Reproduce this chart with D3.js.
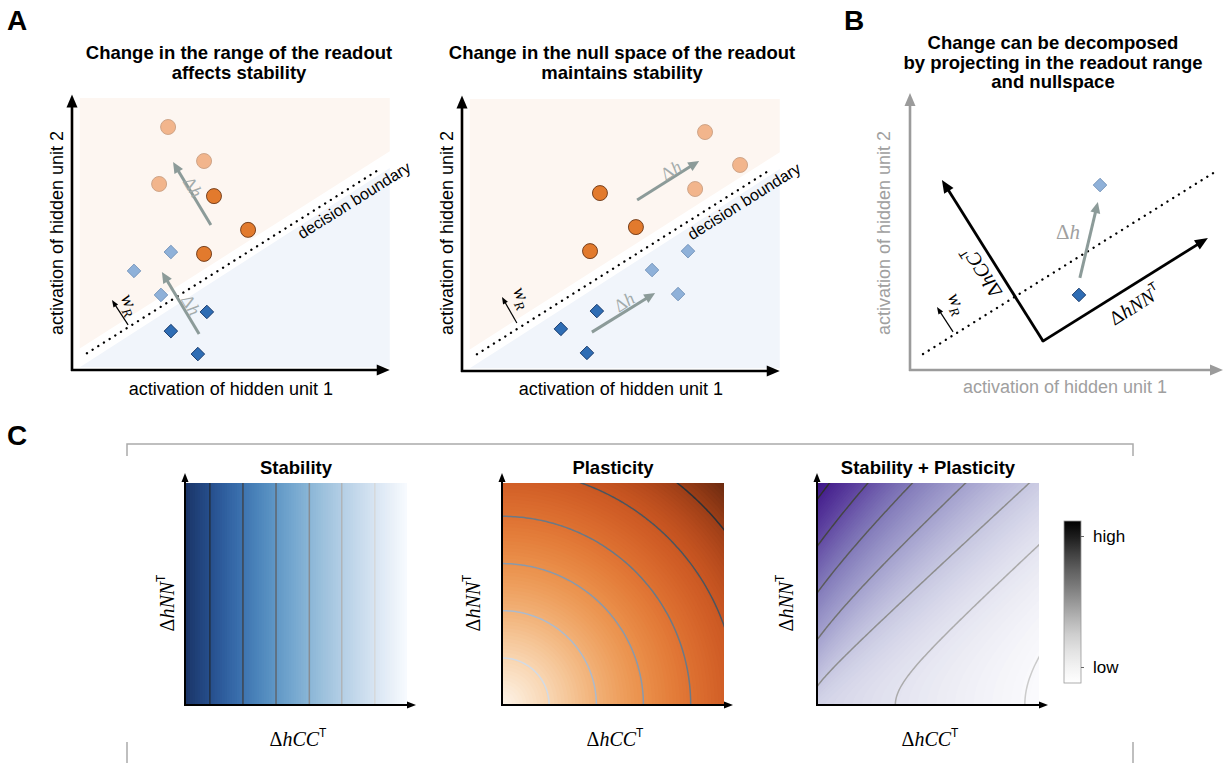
<!DOCTYPE html>
<html>
<head>
<meta charset="utf-8">
<script src="https://cdn.jsdelivr.net/npm/d3@7"></script>
<style>
  body { margin: 0; background: #fff; }
  text { font-family: "Liberation Sans", Arial, sans-serif; }
  .math { font-family: "Liberation Serif", "DejaVu Serif", serif; }
  .title { font-weight: bold; font-size: 18.5px; }
</style>
</head>
<body>
<svg id="fig"></svg>
<script>
const width = 1225;
const height = 763;
const svg = d3.select("svg#fig").attr("width", width).attr("height", height);

// ---- data (panel A/B in abstract unit space 0..10) ----
// left: change in readout range
const rangeOrangeAfter = [[3.10, 9.00], [4.26, 7.74], [2.81, 6.89]];
const rangeOrangeBefore = [[4.58, 6.44], [5.68, 5.19], [4.26, 4.30]];
const rangeBlueAfter = [[3.19, 4.37], [2.00, 3.67], [2.87, 2.78]];
const rangeBlueBefore = [[4.35, 2.15], [3.19, 1.44], [4.06, 0.59]];
const rangeShifts = [[[4.48, 5.37], [3.26, 7.70]], [[4.10, 1.33], [2.90, 3.63]]];
const rangeShiftLabels = [[3.90, 6.78], [3.84, 2.41]];
const rangeW = [[1.81, 1.67], [1.29, 2.59]];
const rangeWLabel = [1.90, 2.44];

// middle: change in readout null space
const nullOrangeAfter = [[7.84, 8.85], [8.97, 7.63], [7.52, 6.74]];
const nullOrangeBefore = [[4.45, 6.59], [5.61, 5.33], [4.13, 4.44]];
const nullBlueAfter = [[7.29, 4.44], [6.13, 3.74], [6.97, 2.85]];
const nullBlueBefore = [[4.35, 2.22], [3.19, 1.56], [4.03, 0.67]];
const nullShifts = [[[5.65, 6.33], [7.65, 7.78]], [[4.19, 1.44], [6.23, 2.89]]];
const nullShiftLabels = [[6.74, 7.44], [5.23, 2.56]];
const nullW = [[1.77, 1.78], [1.29, 2.74]];
const nullWLabel = [1.97, 2.74];

const boundary = [[0.48, 0.62], [9.90, 7.42]];
const boundaryLabel = [7.42, 4.83];
const orangeRegion = [[0.25, 10.07], [10.25, 10.07], [10.25, 8.10], [0.25, 0.80]];
const blueRegion = [[0.25, 0.10], [10.25, 7.48], [10.25, 0.10]];

// right: decomposition
const projBoundary = [[0.42, 0.59], [9.94, 7.41]];
const projVertex = [4.29, 1.07];
const projRangeTip = [1.03, 7.04];
const projNullTip = [9.61, 4.89];
const projBefore = [5.45, 2.78];
const projAfter = [6.13, 6.85];
const projShift = [[5.48, 3.41], [6.06, 6.22]];
const projW = [[1.39, 1.41], [0.87, 2.33]];
const projWLabel = [1.55, 2.48];

// panel C contour levels
const stabilityLevels = [0.888, 0.739, 0.59, 0.44, 0.294, 0.145];
const plasticityLevels = [0.212, 0.425, 0.637, 0.85, 1.062, 1.274];
const combinedLevels = [0.925, 0.714, 0.504, 0.293, 0.083, -0.127, -0.337];
const colorbarLabels = ["high", "low"];

// colour ramps (low -> high)
const bluesRamp = ["#f8fbfe", "#d3e1f1", "#aac9e1", "#78abd1", "#4b87bd", "#2b5ba0", "#1a3466"];
const orangesRamp = ["#fdf4e9", "#f8d3ac", "#f0a868", "#e8863e", "#d8642a", "#bf4c1c", "#6b2a10"];
const purplesRamp = ["#fbfbfd", "#e6e6f1", "#c6c7e1", "#9e9bcb", "#7c74b6", "#5b3d9e", "#3d1486"];

// ---- helpers ----
function arrow(g, x1, y1, x2, y2, color, w, headLen, headW) {
  const ang = Math.atan2(y2 - y1, x2 - x1);
  const bx = x2 - headLen * Math.cos(ang), by = y2 - headLen * Math.sin(ang);
  g.append("line")
    .attr("x1", x1).attr("y1", y1)
    .attr("x2", bx + Math.cos(ang)).attr("y2", by + Math.sin(ang))
    .attr("stroke", color).attr("stroke-width", w);
  const px = -Math.sin(ang) * headW / 2, py = Math.cos(ang) * headW / 2;
  g.append("path")
    .attr("d", "M" + x2 + "," + y2 + "L" + (bx + px) + "," + (by + py) + "L" + (bx - px) + "," + (by - py) + "Z")
    .attr("fill", color);
}

function mathText(g, pieces, size, cx, cy, angle, color, anchor) {
  const t = g.append("text")
    .attr("class", "math")
    .attr("font-size", size)
    .attr("fill", color || "#000")
    .attr("text-anchor", anchor || "middle")
    .attr("transform", "translate(" + cx + "," + cy + ") rotate(" + (angle || 0) + ")")
    .attr("dy", "0.35em");
  pieces.forEach(function(p) {
    const ts = t.append("tspan").text(p[0]);
    if (p[1] == "i") ts.attr("font-style", "italic");
    if (p[1] == "sup") ts.attr("font-size", size * 0.6).attr("dy", -size * 0.45)
      .style("font-family", "'Liberation Sans', sans-serif");
    if (p[1] == "sub") ts.attr("font-style", "italic").attr("font-size", size * 0.7).attr("dy", size * 0.25);
  });
  return t;
}

const deltaH = [["Δ", "r"], ["h", "i"]];
const wR = [["w", "i"], ["R", "sub"]];
const dCC = [["Δ", "r"], ["hCC", "i"], ["T", "sup"]];
const dNN = [["Δ", "r"], ["hNN", "i"], ["T", "sup"]];

function circles(g, x, y, pts, fill, stroke) {
  g.selectAll(null).data(pts).enter().append("circle")
    .attr("cx", d => x(d[0])).attr("cy", d => y(d[1])).attr("r", 7.5)
    .attr("fill", fill).attr("stroke", stroke).attr("stroke-width", 0.9);
}
function diamonds(g, x, y, pts, fill, stroke) {
  g.selectAll(null).data(pts).enter().append("path")
    .attr("d", d3.symbol(d3.symbolSquare, 92))
    .attr("transform", d => "translate(" + x(d[0]) + "," + y(d[1]) + ") rotate(45)")
    .attr("fill", fill).attr("stroke", stroke).attr("stroke-width", 0.9);
}

const cLightOrange = "#f2b58c", sLightOrange = "#c99f82";
const cOrange = "#e27a2d", sOrange = "#6b3614";
const cLightBlue = "#8fb1d9", sLightBlue = "#7494ba";
const cBlue = "#2f6db4", sBlue = "#17396a";
const shiftGray = "#8c9b99";

// ---- section letters ----
svg.append("text").text("A").attr("x", 7).attr("y", 30).attr("font-size", 28).attr("font-weight", "bold");
svg.append("text").text("B").attr("x", 844).attr("y", 30).attr("font-size", 28).attr("font-weight", "bold");
svg.append("text").text("C").attr("x", 7).attr("y", 445).attr("font-size", 28).attr("font-weight", "bold");

// ---- panel A ----
const panelsA = [
  { title: ["Change in the range of the readout", "affects stability"], cx: 239,
    xr: [72, 382], yr: [370, 100], labelX: 63, after: rangeOrangeAfter, before: rangeOrangeBefore,
    blueAfter: rangeBlueAfter, blueBefore: rangeBlueBefore, shifts: rangeShifts,
    shiftLabels: rangeShiftLabels, w: rangeW, wLabel: rangeWLabel },
  { title: ["Change in the null space of the readout", "maintains stability"], cx: 622,
    xr: [462, 772], yr: [371, 101], labelX: 453, after: nullOrangeAfter, before: nullOrangeBefore,
    blueAfter: nullBlueAfter, blueBefore: nullBlueBefore, shifts: nullShifts,
    shiftLabels: nullShiftLabels, w: nullW, wLabel: nullWLabel }
];

panelsA.forEach(function(p) {
  const g = svg.append("g");
  const x = d3.scaleLinear().domain([0, 10]).range(p.xr);
  const y = d3.scaleLinear().domain([0, 10]).range(p.yr);
  const line = d3.line().x(d => x(d[0])).y(d => y(d[1]));

  g.append("path").attr("d", line(orangeRegion) + "Z").attr("fill", "#fdf6f1");
  g.append("path").attr("d", line(blueRegion) + "Z").attr("fill", "#f1f5fb");

  p.title.forEach(function(t, i) {
    g.append("text").attr("class", "title").text(t)
      .attr("x", p.cx).attr("y", 59 + i * 19.5).attr("text-anchor", "middle");
  });

  // axes
  arrow(g, x(0) - 1, y(0), x(10.25), y(0), "#000", 2.6, 13, 11);
  arrow(g, x(0), y(0) + 1, x(0), y(10.2), "#000", 2.6, 13, 11);
  g.append("text").text("activation of hidden unit 1")
    .attr("x", (x(0) + x(10.25)) / 2).attr("y", 395).attr("text-anchor", "middle").attr("font-size", 18);
  g.append("text").text("activation of hidden unit 2")
    .attr("transform", "translate(" + p.labelX + "," + 233 + ") rotate(-90)")
    .attr("text-anchor", "middle").attr("font-size", 18);

  // decision boundary
  g.append("path").attr("d", line(boundary))
    .attr("stroke", "#000").attr("stroke-width", 2.3).attr("stroke-linecap", "round")
    .attr("stroke-dasharray", "0.1 6.6").attr("fill", "none");
  const ang = Math.atan2(y(boundary[1][1]) - y(boundary[0][1]), x(boundary[1][0]) - x(boundary[0][0])) * 180 / Math.PI;
  g.append("text").text("decision boundary").attr("font-size", 16)
    .attr("transform", "translate(" + x(boundaryLabel[0]) + "," + y(boundaryLabel[1]) + ") rotate(" + ang + ")");

  // readout weight arrow
  arrow(g, x(p.w[0][0]), y(p.w[0][1]), x(p.w[1][0]), y(p.w[1][1]), "#000", 1.2, 7, 5.5);
  mathText(g, wR, 19, x(p.wLabel[0]), y(p.wLabel[1]), 65);

  // points
  circles(g, x, y, p.after, cLightOrange, sLightOrange);
  circles(g, x, y, p.before, cOrange, sOrange);
  diamonds(g, x, y, p.blueAfter, cLightBlue, sLightBlue);
  diamonds(g, x, y, p.blueBefore, cBlue, sBlue);

  // shifts
  p.shifts.forEach(function(s, i) {
    const x1 = x(s[0][0]), y1 = y(s[0][1]), x2 = x(s[1][0]), y2 = y(s[1][1]);
    arrow(g, x1, y1, x2, y2, shiftGray, 3, 11, 10);
    let a = Math.atan2(y2 - y1, x2 - x1) * 180 / Math.PI;
    if (a < -90) a += 180;
    mathText(g, deltaH, 18, x(p.shiftLabels[i][0]), y(p.shiftLabels[i][1]), a, "#a3abab");
  });
});

// ---- panel B ----
(function() {
  const g = svg.append("g");
  const x = d3.scaleLinear().domain([0, 10]).range([910, 1220]);
  const y = d3.scaleLinear().domain([0, 10]).range([370, 100]);
  const line = d3.line().x(d => x(d[0])).y(d => y(d[1]));
  const titleB = ["Change can be decomposed", "by projecting in the readout range", "and nullspace"];
  titleB.forEach(function(t, i) {
    g.append("text").attr("class", "title").text(t)
      .attr("x", 1053).attr("y", 49 + i * 19.5).attr("text-anchor", "middle");
  });
  const axisGray = "#9b9b9b";
  arrow(g, x(0) - 1, y(0), 1223, y(0), axisGray, 2.6, 13, 11);
  arrow(g, x(0), y(0) + 1, x(0), 93, axisGray, 2.6, 13, 11);
  g.append("text").text("activation of hidden unit 1").attr("fill", "#a0a0a0")
    .attr("x", 1065).attr("y", 393).attr("text-anchor", "middle").attr("font-size", 18);
  g.append("text").text("activation of hidden unit 2").attr("fill", "#a0a0a0")
    .attr("transform", "translate(890,233) rotate(-90)")
    .attr("text-anchor", "middle").attr("font-size", 18);

  g.append("path").attr("d", line(projBoundary))
    .attr("stroke", "#000").attr("stroke-width", 2.3).attr("stroke-linecap", "round")
    .attr("stroke-dasharray", "0.1 6.6").attr("fill", "none");

  arrow(g, x(projW[0][0]), y(projW[0][1]), x(projW[1][0]), y(projW[1][1]), "#000", 1.2, 7, 5.5);
  mathText(g, wR, 19, x(projWLabel[0]), y(projWLabel[1]), 65);

  // range and null-space components
  arrow(g, x(projVertex[0]), y(projVertex[1]), x(projRangeTip[0]), y(projRangeTip[1]), "#000", 2.8, 13, 11);
  arrow(g, x(projVertex[0]), y(projVertex[1]), x(projNullTip[0]), y(projNullTip[1]), "#000", 2.8, 13, 11);
  g.append("circle").attr("cx", x(projVertex[0])).attr("cy", y(projVertex[1])).attr("r", 1.4).attr("fill", "#000");
  mathText(g, dCC, 20, 982, 272, 238);
  mathText(g, dNN, 20, 1135, 305, -32);

  diamonds(g, x, y, [projAfter], cLightBlue, sLightBlue);
  diamonds(g, x, y, [projBefore], cBlue, sBlue);
  arrow(g, x(projShift[0][0]), y(projShift[0][1]), x(projShift[1][0]), y(projShift[1][1]), shiftGray, 3, 11, 10);
  mathText(g, deltaH, 21, 1056, 232, 0, "#a0a0a0", "start");
})();

// ---- panel C ----
const bracket = svg.append("g").attr("stroke", "#aaaaaa").attr("stroke-width", 1.5).attr("fill", "none");
bracket.append("path").attr("d", "M127,456V444H1133V456");
bracket.append("line").attr("x1", 127).attr("x2", 127).attr("y1", 742).attr("y2", 763);
bracket.append("line").attr("x1", 1133).attr("x2", 1133).attr("y1", 742).attr("y2", 763);

const heatSize = 222, heatTop = 483, heatBottom = 705;
const maps = [
  { title: "Stability", x0: 185, ylab: 174,
    field: (u, v) => 1 - u, domain: [0, 1], ramp: bluesRamp, vrange: [0, 1],
    levels: stabilityLevels,
    lineColors: ["#223040", "#3e4650", "#5f666e", "#878c92", "#b0b4b8", "#d6d8da"] },
  { title: "Plasticity", x0: 502, ylab: 480,
    field: (u, v) => Math.sqrt(u * u + v * v), domain: [0, Math.SQRT2], ramp: orangesRamp, vrange: [0, Math.SQRT2],
    levels: plasticityLevels,
    lineColors: ["#d3dbe5", "#adbacb", "#8a99aa", "#6b7986", "#4c555e", "#2d3136"] },
  { title: "Stability + Plasticity", x0: 817, ylab: 793,
    field: (u, v) => -1.36 * u + Math.sqrt(u * u + v * v), domain: [-0.36, 1.0], ramp: purplesRamp, vrange: [-0.36, 1],
    levels: combinedLevels,
    lineColors: ["#2e2e2e", "#444444", "#5a5a5a", "#727272", "#8e8e8e", "#ababab", "#cbcbcb"] }
];

const n = 111, u0 = -0.05, step = 0.01;
const defs = svg.append("defs");

maps.forEach(function(m, k) {
  const g = svg.append("g");
  const sx = d3.scaleLinear().domain([0, 1]).range([m.x0, m.x0 + heatSize]);
  const sy = d3.scaleLinear().domain([0, 1]).range([heatBottom, heatTop]);
  const color = d3.scaleSequential(d3.interpolateRgbBasis(m.ramp)).domain(m.domain).clamp(true);

  const values = new Array(n * n);
  for (let j = 0; j < n; j++)
    for (let i = 0; i < n; i++)
      values[j * n + i] = m.field(u0 + i * step, u0 + j * step);

  const proj = d3.geoTransform({
    point: function(px, py) { this.stream.point(sx(u0 + (px - 0.5) * step), sy(u0 + (py - 0.5) * step)); }
  });
  const path = d3.geoPath(proj);

  defs.append("clipPath").attr("id", "clip" + k)
    .append("rect").attr("x", m.x0).attr("y", heatTop).attr("width", heatSize).attr("height", heatSize);
  const inner = g.append("g").attr("clip-path", "url(#clip" + k + ")");

  const nb = 90;
  const lo = m.vrange[0], hi = m.vrange[1];
  const thresholds = d3.range(nb).map(i => lo + (hi - lo) * i / nb);
  inner.append("rect").attr("x", m.x0).attr("y", heatTop).attr("width", heatSize).attr("height", heatSize)
    .attr("fill", color(lo));
  inner.selectAll("path.band")
    .data(d3.contours().size([n, n]).thresholds(thresholds)(values))
    .enter().append("path").attr("class", "band")
    .attr("d", path)
    .attr("fill", d => color(d.value + (hi - lo) / nb / 2));

  inner.selectAll("path.iso")
    .data(d3.contours().size([n, n]).thresholds(m.levels)(values))
    .enter().append("path").attr("class", "iso")
    .attr("d", path)
    .attr("fill", "none")
    .attr("stroke", d => m.lineColors[m.levels.indexOf(d.value)])
    .attr("stroke-width", 1.5);

  // axes
  arrow(g, m.x0, heatBottom + 1, m.x0, 473, "#000", 2, 9, 7);
  arrow(g, m.x0 - 1, heatBottom, m.x0 + 231, heatBottom, "#000", 2, 9, 7);

  g.append("text").attr("class", "title").text(m.title)
    .attr("x", m.x0 + heatSize / 2).attr("y", 474).attr("text-anchor", "middle");
  mathText(g, dCC, 20, m.x0 + heatSize / 2 + 2, 739, 0);
  mathText(g, dNN, 20, m.ylab - 7, 603, -90);
});

// colour bar
const cb = { x: 1064, y: 521, w: 17, h: 162 };
const grad = defs.append("linearGradient").attr("id", "greys")
  .attr("x1", 0).attr("x2", 0).attr("y1", 1).attr("y2", 0);
d3.range(0, 1.001, 0.1).forEach(function(t) {
  grad.append("stop").attr("offset", (t * 100) + "%").attr("stop-color", d3.interpolateGreys(t));
});
svg.append("rect").attr("x", cb.x).attr("y", cb.y).attr("width", cb.w).attr("height", cb.h)
  .attr("fill", "url(#greys)").attr("stroke", "#999").attr("stroke-width", 0.8);
const cbScale = d3.scalePoint().domain(colorbarLabels).range([536, 667]);
const cbAxis = svg.append("g").attr("transform", "translate(" + (cb.x + cb.w) + ",0)")
  .call(d3.axisRight(cbScale).tickSize(3).tickPadding(9));
cbAxis.select(".domain").remove();
cbAxis.selectAll("line").attr("stroke", "#666");
cbAxis.selectAll("text").attr("font-size", 17).attr("fill", "#000")
  .style("font-family", "'Liberation Sans', Arial, sans-serif");
</script>
</body>
</html>
